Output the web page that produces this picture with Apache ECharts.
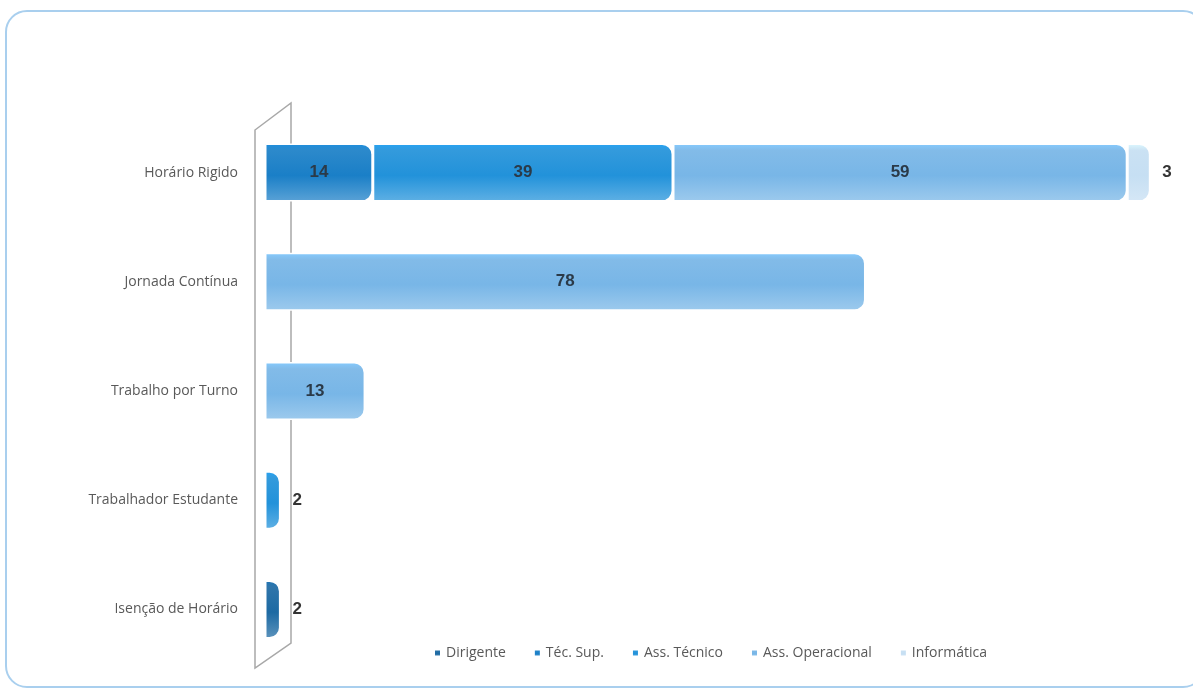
<!DOCTYPE html>
<html><head><meta charset="utf-8">
<script src="https://cdn.jsdelivr.net/npm/echarts@6/dist/echarts.min.js"></script>
<style>
html,body{margin:0;padding:0;background:#fff;}
#frame{position:absolute;left:5px;top:10px;width:1200px;height:678px;border:2px solid #a9cfee;border-radius:22px;box-sizing:border-box;}
#chart{position:absolute;left:0;top:0;width:1193px;height:698px;}
</style>
</head><body>
<div id="frame"></div>
<div id="chart"></div>
<script>
var categories = ['Horário Rigido','Jornada Contínua','Trabalho por Turno','Trabalhador Estudante','Isenção de Horário'];
var seriesNames = ['Dirigente','Téc. Sup.','Ass. Técnico','Ass. Operacional','Informática'];
var dirigente       = [0, 0, 0, 0, 2];
var tecSup          = [14, 0, 0, 0, 0];
var assTecnico      = [39, 0, 0, 2, 0];
var assOperacional  = [59, 78, 13, 0, 0];
var informatica     = [3, 0, 0, 0, 0];
var seriesValues = [dirigente, tecSup, assTecnico, assOperacional, informatica];

var colors = ['#1d6aa3','#1a7fc7','#2292da','#78b6e7','#c6dff3'];
function grad(c){
  return new echarts.graphic.LinearGradient(0,0,0,1,[
    {offset:0,color:echarts.color.lift(c,-0.12)},
    {offset:0.12,color:echarts.color.lift(c,0.08)},
    {offset:0.55,color:c},
    {offset:1,color:echarts.color.lift(c,0.28)}
  ]);
}
var chart = echarts.init(document.getElementById('chart'));
var series = seriesNames.map(function(n,i){
  return {
    name:n, type:'bar', stack:'total', barWidth:58,
    data: seriesValues[i].map(function(v){
      if(v===0) return null;
      if(v<=3) return {value:v, label:{position:'right', distance:12, color:'#333'}};
      return v;
    }),
    itemStyle:{color:grad(colors[i]), borderColor:'#ffffff', borderWidth:1.5, borderRadius:[0,10,10,0]},
    label:{
      show:true, position:'inside',
      color:'#2b3a48', fontWeight:'bold', fontSize:17, fontFamily:'Liberation Sans',
      formatter:function(p){return p.value==null?'':p.value;}
    }
  };
});
chart.setOption({
  animation:false,
  color:colors,
  grid:{left:265, right:35, top:118, bottom:34, containLabel:false},
  legend:{
    data:seriesNames, left:428, top:641, itemWidth:7, itemHeight:7, itemGap:27,
    icon:'rect',
    textStyle:{color:'#595959', fontSize:14, fontFamily:'Open Sans'}
  },
  graphic:[{
    type:'polygon', z:-1, silent:true,
    shape:{points:[[255,130],[291,103],[291,643],[255,668]]},
    style:{fill:'rgba(0,0,0,0)', stroke:'#a8a8a8', lineWidth:1.5}
  }],
  xAxis:{type:'value', min:0, max:116, show:false, splitLine:{show:false}},
  yAxis:{type:'category', data:categories, inverse:true,
    axisLine:{show:false},
    axisTick:{show:false},
    axisLabel:{color:'#595959', fontSize:14, fontFamily:'Open Sans', margin:27}
  },
  series:series
});
</script>
</body></html>
